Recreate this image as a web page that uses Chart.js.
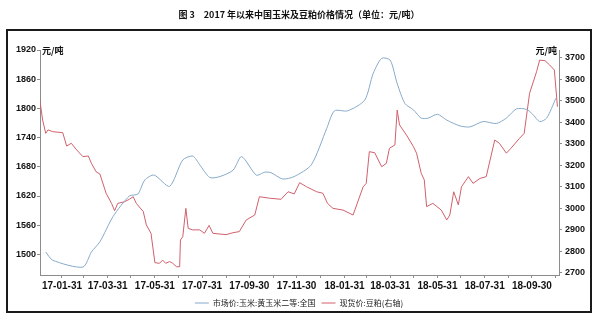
<!DOCTYPE html>
<html>
<head>
<meta charset="utf-8">
<script src="https://cdn.jsdelivr.net/npm/chart.js@4.4.0/dist/chart.umd.min.js"></script>
<style>
  html, body { margin: 0; padding: 0; background: #fff; }
  #wrap { width: 598px; height: 317px; position: relative; }
</style>
</head>
<body>
<div id="wrap"><canvas id="c" width="598" height="317"></canvas></div>
<script>
// x axis labels (every 2 months)
const tickLabels = ['17-01-31', '17-03-31', '17-05-31', '17-07-31', '17-09-30', '17-11-30',
  '18-01-31', '18-03-31', '18-05-31', '18-07-31', '18-09-30'];
const leftTicks = [1500, 1560, 1620, 1680, 1740, 1800, 1860, 1920];
const rightTicks = [2700, 2800, 2900, 3000, 3100, 3200, 3300, 3400, 3500, 3600, 3700];

// 市场价:玉米:黄玉米二等:全国 (left axis)
const cornDates = ['2017-01-10', '2017-01-19', '2017-02-27', '2017-03-10', '2017-03-21', '2017-04-07',
  '2017-04-28', '2017-05-09', '2017-05-18', '2017-05-30', '2017-06-19', '2017-07-06', '2017-07-19',
  '2017-07-28', '2017-08-10', '2017-08-23', '2017-09-09', '2017-09-20', '2017-10-09', '2017-10-20',
  '2017-10-28', '2017-11-12', '2017-11-27', '2017-12-19', '2018-01-08', '2018-01-18', '2018-02-04',
  '2018-02-26', '2018-03-09', '2018-03-20', '2018-03-31', '2018-04-09', '2018-04-19', '2018-04-30',
  '2018-05-10', '2018-05-19', '2018-05-31', '2018-06-12', '2018-06-29', '2018-07-12', '2018-07-29',
  '2018-08-15', '2018-08-28', '2018-09-10', '2018-09-23', '2018-10-01', '2018-10-10', '2018-10-19',
  '2018-10-31'];
const cornPrices = [1505, 1488, 1474, 1505, 1526, 1578,
  1620, 1624, 1653, 1663, 1640, 1694, 1702,
  1684, 1658, 1660, 1673, 1701, 1663, 1669,
  1668, 1655, 1660, 1684, 1759, 1795, 1795,
  1817, 1872, 1903, 1899, 1851, 1810, 1797,
  1780, 1780, 1788, 1776, 1764, 1762, 1773,
  1769, 1780, 1799, 1798, 1788, 1773, 1780,
  1821];

// 现货价:豆粕 (right axis)
const mealDates = ['2017-01-02', '2017-01-06', '2017-01-10', '2017-01-13', '2017-01-19', '2017-02-01',
  '2017-02-06', '2017-02-12', '2017-02-19', '2017-02-27', '2017-03-06', '2017-03-10', '2017-03-16',
  '2017-03-21', '2017-03-29', '2017-04-05', '2017-04-09', '2017-04-13', '2017-04-22', '2017-04-28',
  '2017-05-03', '2017-05-07', '2017-05-16', '2017-05-20', '2017-05-26', '2017-05-31', '2017-06-06',
  '2017-06-10', '2017-06-14', '2017-06-19', '2017-06-23', '2017-06-28', '2017-07-02', '2017-07-03',
  '2017-07-06', '2017-07-10', '2017-07-13', '2017-07-19', '2017-07-28', '2017-08-03', '2017-08-09',
  '2017-08-14', '2017-08-31', '2017-09-09', '2017-09-17', '2017-09-26', '2017-10-07', '2017-10-13',
  '2017-10-26', '2017-11-10', '2017-11-19', '2017-11-27', '2017-12-04', '2017-12-13', '2017-12-26',
  '2018-01-03', '2018-01-09', '2018-01-16', '2018-01-29', '2018-02-11', '2018-02-24', '2018-02-28',
  '2018-03-04', '2018-03-11', '2018-03-20', '2018-03-26', '2018-03-30', '2018-04-06', '2018-04-09',
  '2018-04-12', '2018-04-21', '2018-04-30', '2018-05-04', '2018-05-10', '2018-05-14', '2018-05-17',
  '2018-05-25', '2018-06-05', '2018-06-12', '2018-06-16', '2018-06-21', '2018-06-27', '2018-07-01',
  '2018-07-10', '2018-07-16', '2018-07-25', '2018-08-02', '2018-08-13', '2018-08-19', '2018-08-28',
  '2018-09-03', '2018-09-14', '2018-09-20', '2018-09-27', '2018-10-06', '2018-10-10', '2018-10-17',
  '2018-10-23', '2018-10-29', '2018-11-02'];
const mealPrices = [3511, 3410, 3348, 3364, 3356, 3351,
  3289, 3302, 3271, 3240, 3243, 3209, 3170,
  3159, 3070, 3023, 2989, 3023, 3031, 3042,
  3054, 3023, 2985, 2923, 2884, 2748, 2745,
  2760, 2745, 2753, 2745, 2729, 2729, 2853,
  2868, 3000, 2907, 2900, 2900, 2884, 2921,
  2884, 2878, 2887, 2892, 2946, 2969, 3054,
  3047, 3042, 3077, 3067, 3119, 3100, 3077,
  3070, 3023, 3000, 2992, 2969, 3100, 3116,
  3263, 3258, 3193, 3209, 3279, 3294, 3456,
  3387, 3340, 3286, 3256, 3163, 3132, 3008,
  3023, 2992, 2946, 2969, 3077, 3016, 3100,
  3147, 3116, 3139, 3147, 3317, 3302, 3256,
  3279, 3325, 3348, 3534, 3634, 3688, 3685,
  3665, 3642, 3472];

const T0 = Date.UTC(2017, 0, 1);
function dayIndex(s) {
  const p = s.split('-').map(Number);
  return (Date.UTC(p[0], p[1] - 1, p[2]) - T0) / 864e5;
}
function labelDay(l) { return dayIndex('20' + l); }

// monthly ticks at month ends
const monthEnds = [];
for (let y = 2017; y <= 2018; y++) {
  for (let m = 1; m <= 12; m++) {
    const d = (Date.UTC(y, m, 0) - T0) / 864e5;
    if (d >= 2 && d <= 671) monthEnds.push(d);
  }
}
const labelMap = {};
tickLabels.forEach(l => { labelMap[labelDay(l)] = l; });

const cjk = '"Noto Sans CJK SC", sans-serif';
const axisColor = '#8c8c8c';
const numFont = '"Liberation Sans", Arial, sans-serif';

// outer box and the two unit labels
const decor = {
  id: 'decor',
  afterDraw(chart) {
    const ctx = chart.ctx;
    const a = chart.chartArea;
    ctx.save();
    ctx.fillStyle = '#1a1a1a';
    ctx.fillRect(6, 29, 586, 2);
    ctx.fillRect(6, 311, 586, 2);
    ctx.fillRect(6, 29, 2, 284);
    ctx.fillRect(590, 29, 2, 284);
    ctx.fillStyle = '#111';
    ctx.font = 'bold 9px ' + cjk;
    ctx.textBaseline = 'middle';
    ctx.textAlign = 'left';
    ctx.fillText('元/吨', a.left + 2, a.top + 1);
    ctx.textAlign = 'right';
    ctx.fillText('元/吨', a.right - 2, a.top + 1);
    ctx.restore();
  }
};

new Chart(document.getElementById('c'), {
  type: 'line',
  data: {
    datasets: [
      {
        label: '市场价:玉米:黄玉米二等:全国',
        data: cornDates.map((d, i) => ({ x: dayIndex(d), y: cornPrices[i] })),
        yAxisID: 'y',
        borderColor: '#86aac9',
        backgroundColor: '#86aac9',
        borderWidth: 1,
        pointRadius: 0,
        tension: 0.25
      },
      {
        label: '现货价:豆粕(右轴)',
        data: mealDates.map((d, i) => ({ x: dayIndex(d), y: mealPrices[i] })),
        yAxisID: 'y1',
        borderColor: '#d0606c',
        backgroundColor: '#d0606c',
        borderWidth: 1,
        pointRadius: 0,
        tension: 0
      }
    ]
  },
  options: {
    responsive: false,
    animation: false,
    layout: { padding: { left: 0, right: 0, top: 0, bottom: 0 } },
    plugins: {
      title: {
        display: true,
        text: '图 3　2017 年以来中国玉米及豆粕价格情况（单位：元/吨）',
        color: '#111',
        font: { family: cjk, size: 9, weight: 'bold' },
        padding: { top: 9, bottom: 30.2 }
      },
      legend: {
        position: 'bottom',
        labels: {
          color: '#222',
          font: { family: cjk, size: 8 },
          usePointStyle: true,
          pointStyle: 'line',
          pointStyleWidth: 14,
          boxHeight: 8,
          padding: 6
        }
      },
      tooltip: { enabled: false }
    },
    scales: {
      x: {
        type: 'linear',
        min: 1.6,
        max: 672,
        afterBuildTicks: s => { s.ticks = monthEnds.map(v => ({ value: v })); },
        afterFit: s => { s.height = 18; },
        grid: { drawOnChartArea: false, tickLength: 3, color: axisColor },
        border: { color: axisColor },
        ticks: {
          autoSkip: false,
          maxRotation: 0,
          padding: 2,
          color: '#111',
          font: { family: numFont, size: 10, weight: 'bold' },
          callback: v => labelMap[v] || ''
        }
      },
      y: {
        position: 'left',
        min: 1457.7,
        max: 1920,
        afterBuildTicks: s => { s.ticks = leftTicks.map(v => ({ value: v })); },
        afterFit: s => { s.width = 40; },
        grid: { drawOnChartArea: false, tickLength: 3, color: axisColor },
        border: { color: axisColor },
        ticks: {
          padding: 1,
          color: '#111',
          font: { family: numFont, size: 9, weight: 'bold' },
          callback: v => String(v)
        }
      },
      y1: {
        position: 'right',
        min: 2690.7,
        max: 3734.8,
        afterBuildTicks: s => { s.ticks = rightTicks.map(v => ({ value: v })); },
        afterFit: s => { s.width = 39; },
        grid: { drawOnChartArea: false, tickLength: 3, color: axisColor },
        border: { color: axisColor },
        ticks: {
          padding: 3,
          color: '#111',
          font: { family: numFont, size: 9, weight: 'bold' },
          callback: v => String(v)
        }
      }
    }
  },
  plugins: [decor]
});
</script>
</body>
</html>
